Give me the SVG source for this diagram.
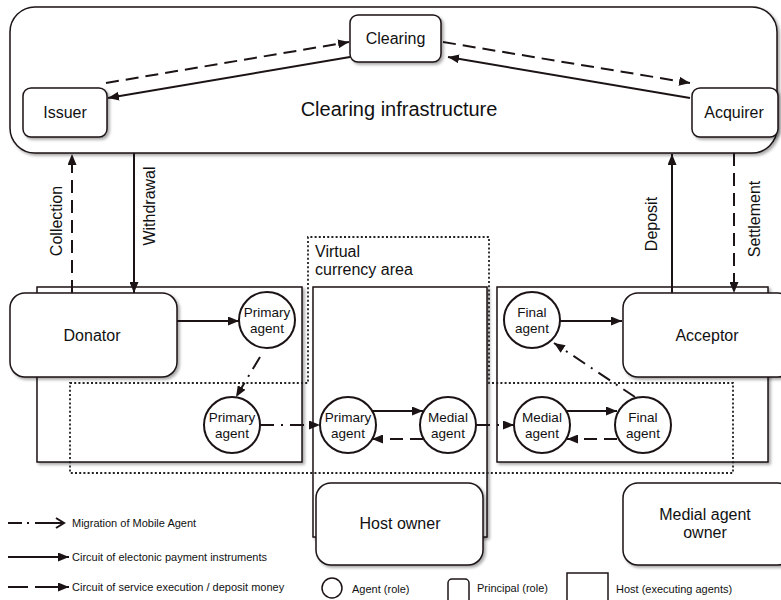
<svg xmlns="http://www.w3.org/2000/svg" width="781" height="600" viewBox="0 0 781 600">
<defs>
<filter id="sh" x="-10%" y="-10%" width="130%" height="130%">
<feDropShadow dx="2" dy="2" stdDeviation="1.5" flood-color="#000" flood-opacity="0.35"/>
</filter>
<marker id="ah" markerUnits="userSpaceOnUse" markerWidth="11" markerHeight="9" refX="11" refY="4.5" orient="auto">
<path d="M0,0 L11,4.5 L0,9 Z" fill="#1c1414"/>
</marker>
<marker id="oa" markerUnits="userSpaceOnUse" markerWidth="12" markerHeight="12" refX="10" refY="6" orient="auto">
<path d="M2,1 L10,6 L2,11" fill="none" stroke="#1c1414" stroke-width="2"/>
</marker>
</defs>
<style>
.box{fill:#fff;stroke:#1c1414;stroke-width:1.5;filter:url(#sh)}
.host{fill:#fff;stroke:#1c1414;stroke-width:1.5;filter:url(#sh)}
.ag{fill:#fff;stroke:#1c1414;stroke-width:2}
.t{font-family:"Liberation Sans",Arial,sans-serif;font-size:16px;fill:#111;text-anchor:middle}
.ta{font-family:"Liberation Sans",Arial,sans-serif;font-size:13.5px;fill:#111;text-anchor:middle}
.tl{font-family:"Liberation Sans",Arial,sans-serif;font-size:11px;fill:#111}
.c{fill:none;stroke:#1c1414;stroke-width:2}
.sol{marker-end:url(#ah)}
.dash{stroke-dasharray:13 7;marker-end:url(#ah)}
.dd{stroke-dasharray:14 7 2 7;marker-end:url(#ah)}
.dot{fill:none;stroke:#222;stroke-width:1.8;stroke-dasharray:2 2.2}
</style>
<rect x="0" y="0" width="781" height="600" fill="#fff"/>

<g id="clearing-infrastructure">
<rect class="box" x="10" y="7" width="767" height="146" rx="25"/>
<text class="t" x="399" y="116" style="font-size:20px">Clearing infrastructure</text>
</g>
<g id="clearing"><rect class="box" x="350" y="15" width="91" height="47" rx="8"/><text class="t" x="395.5" y="44">Clearing</text></g>
<g id="issuer"><rect class="box" x="23" y="88" width="84" height="49" rx="8"/><text class="t" x="65" y="118">Issuer</text></g>
<g id="acquirer"><rect class="box" x="692" y="88" width="86" height="49" rx="8"/><text class="t" x="734" y="118">Acquirer</text></g>

<g id="host-left"><rect class="host" x="37" y="287" width="265" height="175"/></g>
<g id="host-center"><rect class="host" x="313" y="287" width="174" height="250"/></g>
<g id="host-right"><rect class="host" x="497" y="287" width="271" height="175"/></g>

<g id="areas">
<path class="dot" d="M70,383 H308 V237 H489 V383 H733 V473 H70 Z"/>
<text class="t" x="315" y="257" style="text-anchor:start">Virtual</text>
<text class="t" x="315" y="275" style="text-anchor:start">currency area</text>
</g>

<g id="donator"><rect class="box" x="10" y="293" width="167" height="84" rx="15"/><text class="t" x="92" y="341">Donator</text></g>
<g id="acceptor"><rect class="box" x="623" y="293" width="170" height="84" rx="15"/><text class="t" x="707" y="341">Acceptor</text></g>
<g id="host-owner"><rect class="box" x="316" y="483" width="167" height="82" rx="15"/><text class="t" x="400" y="529">Host owner</text></g>
<g id="medial-agent-owner"><rect class="box" x="623" y="483" width="170" height="82" rx="15"/><text class="t" x="705" y="520">Medial agent</text><text class="t" x="705" y="538">owner</text></g>

<g id="primary-agent-1"><circle class="ag" cx="267" cy="320" r="28"/><text class="ta" x="267" y="317">Primary</text><text class="ta" x="267" y="333">agent</text></g>
<g id="primary-agent-2"><circle class="ag" cx="232" cy="425" r="28"/><text class="ta" x="232" y="422">Primary</text><text class="ta" x="232" y="438">agent</text></g>
<g id="primary-agent-3"><circle class="ag" cx="348" cy="425" r="28"/><text class="ta" x="348" y="422">Primary</text><text class="ta" x="348" y="438">agent</text></g>
<g id="medial-agent-1"><circle class="ag" cx="448" cy="425" r="28"/><text class="ta" x="448" y="422">Medial</text><text class="ta" x="448" y="438">agent</text></g>
<g id="final-agent-1"><circle class="ag" cx="532" cy="320" r="28"/><text class="ta" x="532" y="317">Final</text><text class="ta" x="532" y="333">agent</text></g>
<g id="medial-agent-2"><circle class="ag" cx="542" cy="425" r="28"/><text class="ta" x="542" y="422">Medial</text><text class="ta" x="542" y="438">agent</text></g>
<g id="final-agent-2"><circle class="ag" cx="643" cy="425" r="28"/><text class="ta" x="643" y="422">Final</text><text class="ta" x="643" y="438">agent</text></g>

<g id="connectors">
<path class="c dash" d="M106,83 L349,42"/>
<path class="c sol" d="M350,57 L108,98"/>
<path class="c dash" d="M443,42 L690,83"/>
<path class="c sol" d="M690,98 L448,57"/>
<path class="c dash" d="M72,293 L72,154"/>
<path class="c sol" d="M134,153 L134,293"/>
<path class="c sol" d="M672,293 L672,154"/>
<path class="c dash" d="M734,153 L734,293"/>
<path class="c sol" d="M177,321 L239,321"/>
<path class="c dd" d="M260,357 L236,397"/>
<path class="c dd" d="M260,425 L320,425"/>
<path class="c sol" d="M372,411 L423,411"/>
<path class="c dash" d="M423,439 L372,439"/>
<path class="c dd" d="M476,425 L514,425"/>
<path class="c sol" d="M566,411 L617,411"/>
<path class="c dash" d="M617,439 L567,439"/>
<path class="c dd" d="M635,397 L554,343"/>
<path class="c sol" d="M560,321 L622,321"/>
<text class="t" transform="translate(62,221) rotate(-90)">Collection</text>
<text class="t" transform="translate(155,206) rotate(-90)">Withdrawal</text>
<text class="t" transform="translate(657,224) rotate(-90)">Deposit</text>
<text class="t" transform="translate(760,219) rotate(-90)">Settlement</text>
</g>

<g id="legend">
<path class="c" d="M8,523 H22 M27,523 H29"/>
<path class="c" d="M35,523 H64" style="marker-end:url(#oa)"/>
<text class="tl" x="72" y="527">Migration of Mobile Agent</text>
<path class="c sol" d="M8,557 H69"/>
<text class="tl" x="72" y="561">Circuit of electonic payment instruments</text>
<path class="c" d="M8,587 H28 M35,587 H69" style="marker-end:url(#ah)"/>
<text class="tl" x="72" y="591">Circuit of service execution / deposit money</text>
<circle class="ag" cx="332" cy="588" r="10" style="stroke-width:1.5"/>
<text class="tl" x="352" y="593">Agent (role)</text>
<rect x="448" y="579" width="21" height="30" rx="4" fill="#fff" stroke="#1c1414" stroke-width="1.5"/>
<text class="tl" x="477" y="592">Principal (role)</text>
<rect x="567" y="573" width="41" height="40" fill="#fff" stroke="#1c1414" stroke-width="1.5"/>
<text class="tl" x="616" y="593">Host (executing agents)</text>
</g>
</svg>
